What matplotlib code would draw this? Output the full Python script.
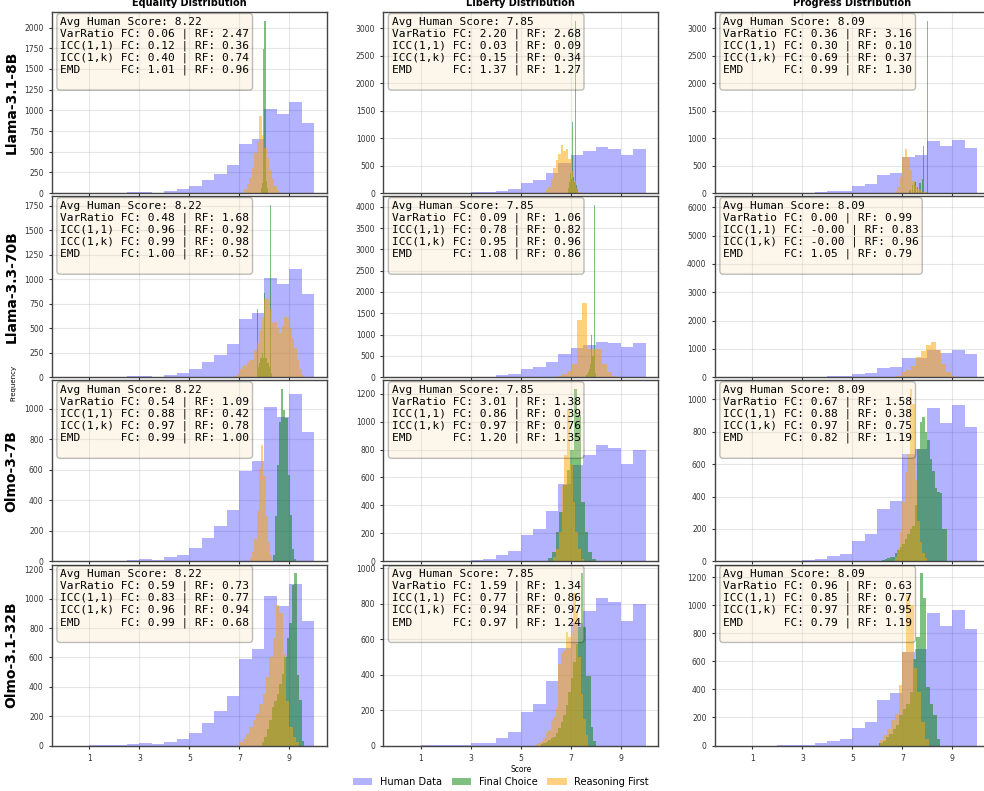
import numpy as np
import matplotlib.pyplot as plt

dims = ["Equality", "Liberty", "Progress"]
models = ["Llama-3.1-8B", "Llama-3.3-70B", "Olmo-3-7B", "Olmo-3.1-32B"]
avg_human = [8.22, 7.85, 8.09]

# human ratings, 0.5 wide bins from 0 to 10
human_edges = np.arange(0, 10.5, 0.5)
human_equality = [0, 0, 4, 2, 2, 9, 16, 7, 27, 45, 87, 155, 232, 335, 592, 660, 1015, 950, 1100, 847]
human_liberty = [0, 0, 2, 2, 3, 4, 13, 17, 43, 74, 190, 232, 362, 550, 690, 760, 835, 810, 700, 800]
human_progress = [0, 0, 0, 0, 2, 3, 6, 16, 31, 43, 126, 167, 326, 375, 665, 690, 948, 854, 965, 829]
human_counts = [human_equality, human_liberty, human_progress]

# (FC, RF) metric pairs, rows = models, cols = dims
varratio = [[(0.06, 2.47), (2.20, 2.68), (0.36, 3.16)],
            [(0.48, 1.68), (0.09, 1.06), (0.00, 0.99)],
            [(0.54, 1.09), (3.01, 1.38), (0.67, 1.58)],
            [(0.59, 0.73), (1.59, 1.34), (0.96, 0.63)]]
icc11 = [[(0.12, 0.36), (0.03, 0.09), (0.30, 0.10)],
         [(0.96, 0.92), (0.78, 0.82), (-0.0, 0.83)],
         [(0.88, 0.42), (0.86, 0.39), (0.88, 0.38)],
         [(0.83, 0.77), (0.77, 0.86), (0.85, 0.77)]]
icc1k = [[(0.40, 0.74), (0.15, 0.34), (0.69, 0.37)],
         [(0.99, 0.98), (0.95, 0.96), (-0.0, 0.96)],
         [(0.97, 0.78), (0.97, 0.76), (0.97, 0.75)],
         [(0.96, 0.94), (0.94, 0.97), (0.97, 0.95)]]
emd = [[(1.01, 0.96), (1.37, 1.27), (0.99, 1.30)],
       [(1.00, 0.52), (1.08, 0.86), (1.05, 0.79)],
       [(0.99, 1.00), (1.20, 1.35), (0.82, 1.19)],
       [(0.99, 0.68), (0.97, 1.24), (0.79, 1.19)]]

# model score histograms: first bin edge, bin width, counts
fc_start = [[7.85, 6.88, 7.275], [7.72, 7.6, 8.0], [8.33, 6.1, 6.2], [7.9, 5.8, 6.07]]
fc_width = [[0.05, 0.04, 0.05], [0.04, 0.04, 0.05], [0.085, 0.145, 0.1], [0.1, 0.1, 0.135]]
fc_counts = [
    [[60, 120, 1740, 2080, 150, 60],
     [100, 200, 370, 250, 1290, 300, 200, 3130, 150, 80],
     [60, 0, 150, 0, 200, 0, 120, 0, 180, 0, 250, 850, 0, 0, 3130]],
    [[700, 100, 150, 200, 200, 250, 200, 864, 200, 200, 150, 150, 100, 1757, 40],
     [50, 80, 120, 200, 300, 1000, 500, 500, 4040, 100],
     []],
    [[40, 300, 630, 917, 1130, 993, 943, 565, 303, 83, 18],
     [24, 67, 210, 353, 544, 651, 800, 1232, 1050, 425, 210, 67, 19],
     [10, 15, 20, 25, 30, 50, 70, 90, 110, 140, 170, 200, 220, 350, 690, 860, 891,
      800, 750, 630, 560, 450, 430, 420, 200, 200]],
    [[23, 57, 114, 171, 262, 300, 353, 420, 490, 604, 729, 831, 1093, 1173, 478, 307, 34],
     [10, 15, 20, 30, 40, 50, 70, 100, 130, 170, 230, 300, 380, 470, 570, 670, 972,
      670, 390, 390, 104, 28],
     [15, 30, 60, 84, 119, 143, 215, 262, 298, 382, 620, 776, 1229, 1050, 418, 298, 215, 48]],
]
rf_start = [[7.2, 6.0, 6.7], [6.8, 6.45, 6.73], [7.42, 6.3, 6.7], [7.0, 5.6, 6.1]]
rf_width = [[0.1, 0.1, 0.1], [0.1, 0.2, 0.2], [0.09, 0.11, 0.1], [0.133, 0.1, 0.15]]
rf_counts = [
    [[50, 110, 185, 300, 490, 620, 930, 700, 550, 420, 280, 170, 90, 30],
     [50, 120, 250, 450, 600, 720, 870, 760, 800, 620, 400, 220, 100, 30],
     [40, 120, 300, 650, 810, 650, 420, 230, 130, 80, 50, 30, 20]],
    [[15, 30, 80, 100, 130, 160, 180, 180, 280, 350, 480, 600, 800, 800, 700, 550, 560,
      500, 450, 520, 610, 600, 500, 400, 300, 180, 80, 20],
     [40, 80, 157, 310, 1350, 1740, 670, 670, 670, 310, 120, 30],
     [60, 177, 260, 412, 730, 940, 1150, 1235, 965, 470, 177, 60]],
    [[20, 60, 150, 330, 610, 763, 560, 300, 130, 40],
     [30, 90, 210, 540, 760, 1093, 690, 425, 210, 90, 20],
     [27, 78, 181, 366, 551, 665, 1062, 973, 500, 250, 120, 50, 20]],
    [[23, 46, 80, 125, 171, 216, 285, 353, 467, 604, 729, 957, 900, 620, 300, 125, 57, 23],
     [10, 15, 25, 40, 70, 85, 140, 160, 210, 460, 520, 540, 640, 610, 632, 858, 760, 500, 290, 150, 60],
     [36, 72, 119, 179, 227, 430, 668, 1074, 1002, 550, 380, 167, 48]],
]

# FC histogram for Llama-3.3-70B / Progress is not visible but sets the y range
ylim_top = {(1, 2): 6380}


def draw_model(ax, start, width, counts, color, label):
    if len(counts) == 0:
        return
    edges = start + width * np.arange(len(counts) + 1)
    ax.hist(edges[:-1] + width / 2, bins=edges, weights=counts,
            color=color, alpha=0.5, label=label)


fig, axes = plt.subplots(4, 3, figsize=(9.84, 7.91), dpi=100, sharex=True)
fig.subplots_adjust(left=0.0528, right=1.006, top=0.9845, bottom=0.0575,
                    wspace=0.2055, hspace=0.0177)

for i, model in enumerate(models):
    for j, dim in enumerate(dims):
        ax = axes[i, j]
        ax.hist(human_edges[:-1] + 0.25, bins=human_edges, weights=human_counts[j],
                color="blue", alpha=0.3, label="Human Data")
        draw_model(ax, fc_start[i][j], fc_width[i][j], fc_counts[i][j], "green", "Final Choice")
        draw_model(ax, rf_start[i][j], rf_width[i][j], rf_counts[i][j], "orange", "Reasoning First")
        if (i, j) in ylim_top:
            ax.set_ylim(0, ylim_top[(i, j)])

        txt = (f"Avg Human Score: {avg_human[j]:.2f}\n"
               f"VarRatio FC: {varratio[i][j][0]:.2f} | RF: {varratio[i][j][1]:.2f}\n"
               f"ICC(1,1) FC: {icc11[i][j][0]:.2f} | RF: {icc11[i][j][1]:.2f}\n"
               f"ICC(1,k) FC: {icc1k[i][j][0]:.2f} | RF: {icc1k[i][j][1]:.2f}\n"
               f"EMD      FC: {emd[i][j][0]:.2f} | RF: {emd[i][j][1]:.2f}\n")
        ax.text(0.03, 0.975, txt, transform=ax.transAxes, va="top", ha="left",
                family="monospace", fontsize=8,
                bbox=dict(boxstyle="round", facecolor="wheat", alpha=0.25))

        ax.grid(True, alpha=0.3)
        ax.set_axisbelow(True)
        ax.tick_params(labelsize=5.5, length=2.5, colors="#333333")
        for sp in ax.spines.values():
            sp.set_color("#444444")
            sp.set_linewidth(1.0)
        if i == 0:
            ax.set_title(f"{dim} Distribution", fontsize=7, fontweight="bold", pad=4.5)
        if j == 0:
            ax.set_ylabel(model, fontsize=10, fontweight="bold")

axes[0, 0].set_xticks([1, 3, 5, 7, 9])
axes[3, 1].set_xlabel("Score", fontsize=5.5, labelpad=1.5)
fig.text(0.014, 0.516, "Frequency", rotation=90, fontsize=5, va="center", ha="center")

handles, labels = axes[0, 0].get_legend_handles_labels()
fig.legend(handles, labels, loc="lower center", bbox_to_anchor=(0.509, -0.006),
           ncol=3, frameon=False, fontsize=7, handlelength=2, columnspacing=1.0)

fig.savefig("out.png", dpi=100)
